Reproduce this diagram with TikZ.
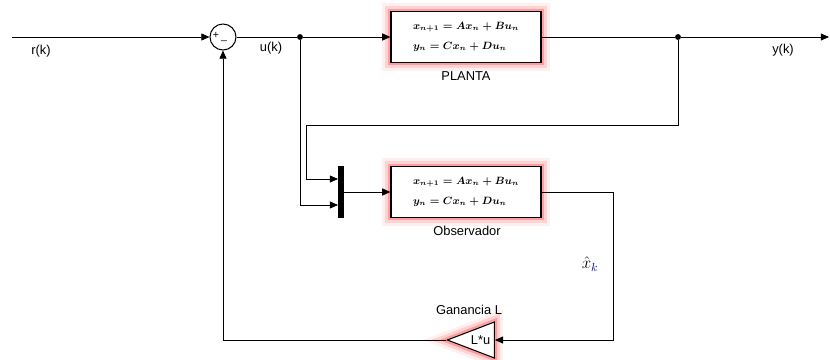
\documentclass[tikz,border=0pt]{standalone}
\usepackage{fontspec}
\setsansfont{Liberation Sans}
\usepackage{amsmath}
\usetikzlibrary{arrows.meta, shapes.geometric, positioning, calc}
\tikzset{block/.style={rectangle, draw=black, fill=white, line width=1pt,
    minimum width=4.5cm, minimum height=1.53cm, inner sep=2pt, align=left,
    font=\fontsize{9.2}{11}\selectfont\boldmath},
    glow/.style={preaction={draw=red, opacity=0.06, line width=15pt},
      preaction={draw=red, opacity=0.12, line width=10pt},
      preaction={draw=red, opacity=0.25, line width=5pt}},
    sig/.style={draw, line width=0.75pt, -{Triangle[length=7pt,width=6pt]}},
    wire/.style={draw, line width=0.75pt},
    lbl/.style={font=\sffamily\fontsize{11}{13}\selectfont, inner sep=0pt},
    junct/.style={circle, fill=black, inner sep=0pt, minimum size=5pt}}

\begin{document}
\begin{tikzpicture}[x=0.03cm, y=-0.03cm, >=Stealth]
  \useasboundingbox (0,0) rectangle (830,360);

  % Blocks
  \node[circle, draw=black, fill=white, line width=0.9pt, minimum size=0.78cm, inner sep=0pt] (sum) at (223,37) {};
  \node[font=\sffamily\small, inner sep=0pt] (plus) at (216,35) {+};
  \node[font=\sffamily\small, inner sep=0pt] (minus) at (224,41) {\_};
  \node[block, glow] (planta) at (466,37) {$x_{n+1} = Ax_n + Bu_n$\\[6pt]$y_n = Cx_n + Du_n$};
  \node[rectangle, fill=black, minimum width=0.18cm, minimum height=1.56cm, inner sep=0pt] (mux) at (341,192) {};
  \node[block, glow] (obs) at (466,192) {$x_{n+1} = Ax_n + Bu_n$\\[6pt]$y_n = Cx_n + Du_n$};
  \node[isosceles triangle, shape border rotate=180, isosceles triangle stretches, draw=black, fill=white,
    line width=0.9pt, glow, minimum width=1.08cm, minimum height=1.41cm, inner sep=0pt,
    font=\sffamily\fontsize{11}{13}\selectfont, anchor=apex] (gain) at (446,340) {L*u};

  % Junctions and free ends
  \node[junct] (uk) at (300,37) {};
  \node[junct] (yk) at (678,37) {};
  \coordinate (in) at (12,37);
  \coordinate (out) at (829,37);
  \coordinate (m1) at (338,179);
  \coordinate (m2) at (338,205);
  \coordinate (r1) at (613,340);

  % Signals
  \draw[sig] (in) -- (sum.west);
  \draw[wire] (sum.east) -- (uk);
  \draw[sig] (uk) -- (planta.west);
  \draw[wire] (planta.east) -- (yk);
  \draw[sig] (yk) -- (out);
  \draw[sig] (yk) |- (306,125) |- (m1);
  \draw[sig] (uk) |- (m2);
  \draw[sig] (mux.east) -- (obs.west);
  \draw[sig] (obs.east) -| (r1) -- (gain.lower side);
  \draw[sig] (gain.apex) -| (sum.south);

  % Labels
  \node[lbl] (rlbl) at (41,51) {r(k)};
  \node[lbl] (ulbl) at (271,48) {u(k)};
  \node[lbl] (ylbl) at (783,50) {y(k)};
  \node[lbl] (plbl) at (466,76) {PLANTA};
  \node[lbl] (olbl) at (467,231) {Observador};
  \node[lbl] (glbl) at (469,310) {Ganancia L};
  \node[inner sep=0pt, font=\fontsize{14}{16}\selectfont] (xlbl) at (590,264) {$\hat{x}_{\color{blue!60!black}k}$};
\end{tikzpicture}
\end{document}
